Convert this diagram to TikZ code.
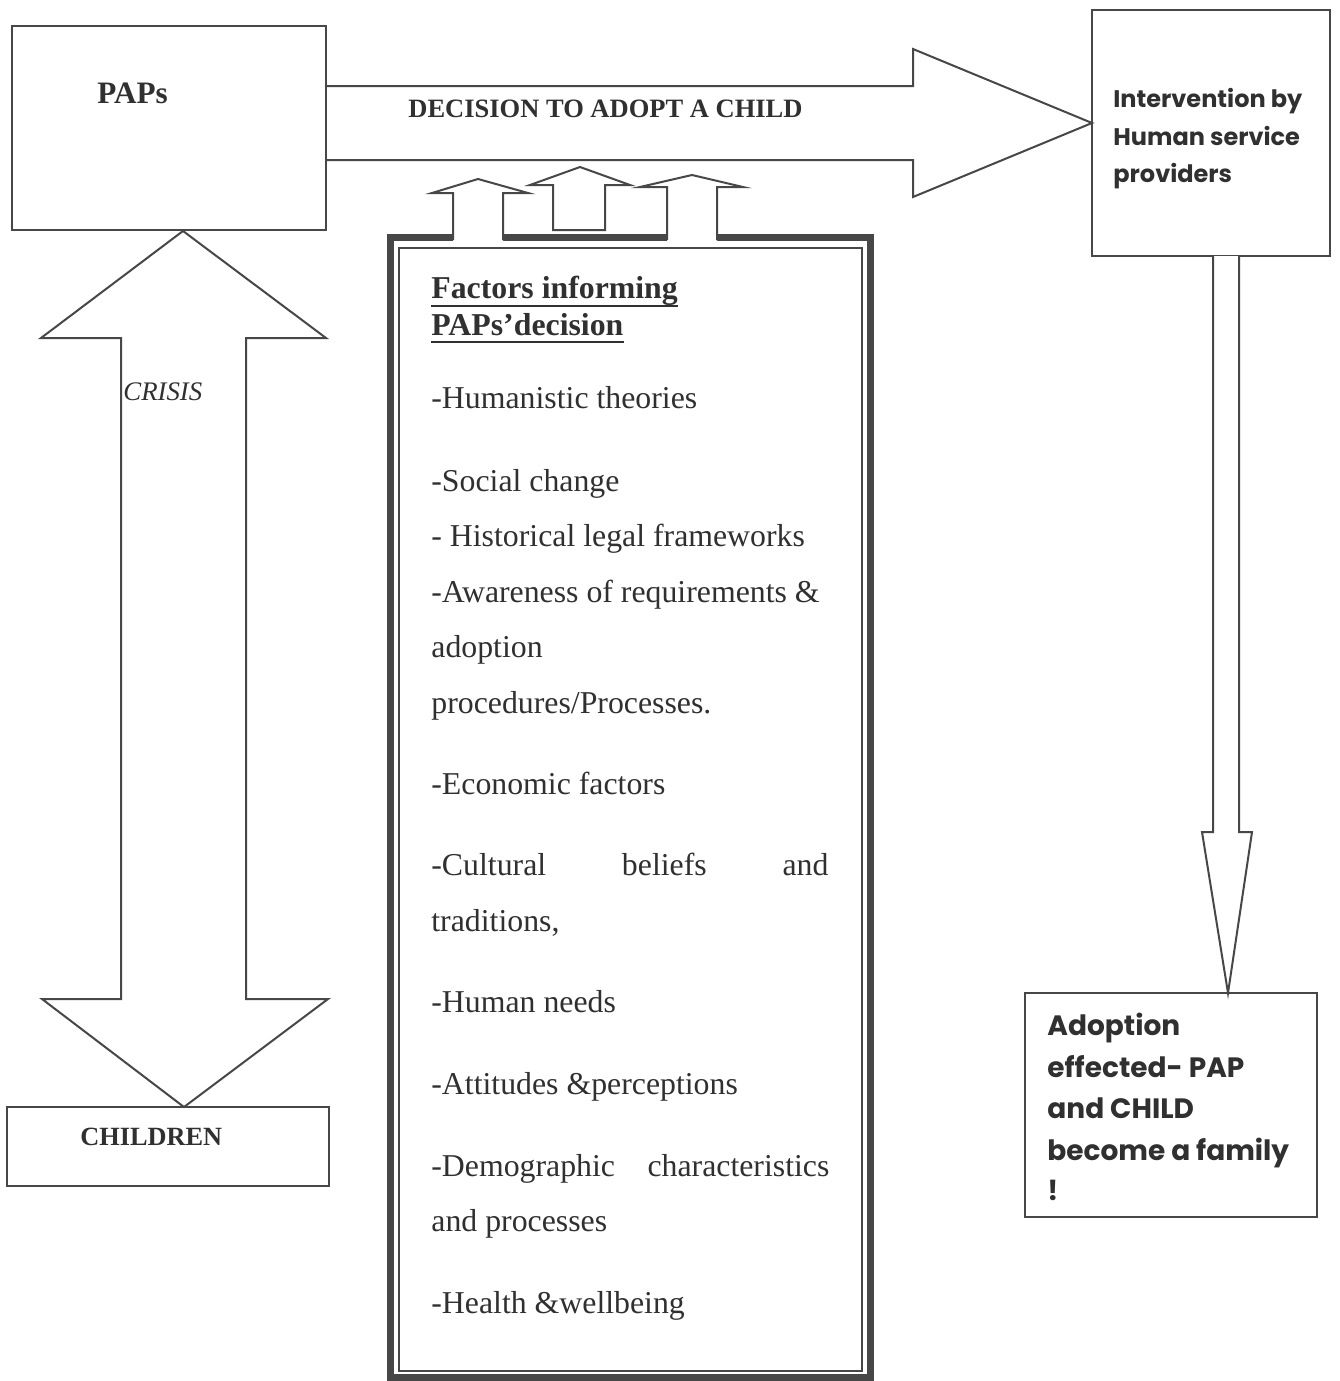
\documentclass[tikz,border=0pt]{standalone}
\usepackage{fontspec}
\setmainfont{Liberation Serif}
\newfontfamily\gothic{Poppins}
\definecolor{lc}{HTML}{474747}
\definecolor{tc}{HTML}{303030}
\begin{document}
\begin{tikzpicture}[x=0.5pt,y=-0.5pt,
  ln/.style={draw=lc, line width=1pt, line join=miter},
  boxn/.style={draw=lc, line width=1pt, fill=white, inner sep=0pt},
  ser/.style={inner sep=0pt, anchor=base west, text=tc, font=\fontsize{15.9pt}{18pt}\selectfont},
  serb/.style={inner sep=0pt, anchor=base west, text=tc, font=\fontsize{15.9pt}{18pt}\selectfont\bfseries},
  goth/.style={inner sep=0pt, anchor=base west, text=tc, font=\fontsize{12pt}{14pt}\gothic\bfseries},
  gothL/.style={inner sep=0pt, anchor=base west, text=tc, font=\fontsize{14pt}{16pt}\gothic\bfseries}
]
\useasboundingbox (0,0) rectangle (1339,1381);
\fill[white] (0,0) rectangle (1339,1381);

% boxes
\node[boxn, minimum width=157pt, minimum height=102pt] (paps) at (169,128) {};
\node[boxn, minimum width=119pt, minimum height=123pt] (interv) at (1211,133) {};
\node[boxn, minimum width=146pt, minimum height=112pt] (adopt) at (1171,1105) {};
\node[boxn, minimum width=161pt, minimum height=39.5pt] (children) at (168,1146.5) {};

% tips of the block arrows
\coordinate (tipR) at (1092,123);
\coordinate (tipUp) at (183,231);
\coordinate (tipDown) at (184,1107);
\coordinate (tipV) at (1228,993);

% big right arrow: PAPs -> Intervention
\draw[ln, fill=white] (paps.east |- 0,86) -- (913,86) -- (913,49) -- (tipR) -- (913,197) -- (913,160) -- (paps.east |- 0,160);
% double arrow PAPs <-> CHILDREN
\draw[ln, fill=white] (tipUp) -- (326,338) -- (246,338) -- (246,999) -- (328,999) -- (tipDown) -- (42,999) -- (121,999) -- (121,338) -- (41,338) -- cycle;
% vertical arrow Intervention -> Adoption
\draw[ln, fill=white] (1213,256) -- (1213,832) -- (1202,832) -- (tipV) -- (1252,832) -- (1239,832) -- (1239,256);

% factors box (thick outer, thin inner)
\draw[draw=lc, line width=3.5pt] (390,237) rectangle (870,1377);
\draw[ln] (399,248) rectangle (862,1371);

% three small up arrows into the decision arrow
\fill[white] (453,241) -- (453,193) -- (432,193) -- (478,179) -- (528,193) -- (503,193) -- (503,241) -- cycle;
\draw[ln] (453,240) -- (453,193) -- (432,193) -- (478,179) -- (528,193) -- (503,193) -- (503,240);
\draw[ln, fill=white] (553,230) -- (553,185) -- (530,185) -- (580,167) -- (630,185) -- (605,185) -- (605,230) -- cycle;
\fill[white] (667,241) -- (667,187) -- (640,187) -- (692,175) -- (743,187) -- (717,187) -- (717,241) -- cycle;
\draw[ln] (667,240) -- (667,187) -- (640,187) -- (692,175) -- (743,187) -- (717,187) -- (717,240);

% labels
\node[serb, font=\fontsize{15.6pt}{18pt}\selectfont\bfseries] (papst) at (97,103.5) {PAPs};
\node[serb, font=\fontsize{13.25pt}{16pt}\selectfont\bfseries] (dec) at (408,117) {DECISION TO ADOPT A CHILD};
\node[serb, font=\fontsize{13.15pt}{16pt}\selectfont\bfseries] (chit) at (80,1145) {CHILDREN};
\node[ser, font=\fontsize{13.4pt}{16pt}\selectfont\itshape] (crisis) at (123,400) {CRISIS};

\node[goth] (i1) at (1113,107) {Intervention by};
\node[goth] (i2) at (1113,145) {Human service};
\node[goth] (i3) at (1113,182) {providers};

\node[gothL] (a1) at (1047,1035) {Adoption};
\node[gothL] (a2) at (1047,1077) {effected- PAP};
\node[gothL] (a3) at (1047,1118) {and CHILD};
\node[gothL] (a4) at (1047,1160) {become a family};
\node[gothL] (a5) at (1047,1200) {!};

% factors text
\node[serb] (h1) at (431,298) {Factors informing};
\node[serb] (h2) at (431,335) {PAPs’decision};
\draw[tc, line width=1.1pt] ([yshift=-4pt]h1.base west) -- ([yshift=-4pt]h1.base east);
\draw[tc, line width=1.1pt] ([yshift=-3.5pt]h2.base west) -- ([yshift=-3.5pt]h2.base east);

\node[ser] (f1) at (431,408) {-Humanistic theories};
\node[ser] (f2) at (431,491) {-Social change};
\node[ser] (f3) at (431,546) {- Historical legal frameworks};
\node[ser] (f4) at (431,602) {-Awareness of requirements \&};
\node[ser] (f5) at (431,657) {adoption};
\node[ser] (f6) at (431,713) {procedures/Processes.};
\node[ser] (f7) at (431,794) {-Economic factors};
\node[ser] (f8) at (431,875) {\makebox[198.5pt][s]{-Cultural beliefs and}};
\node[ser] (f9) at (431,931) {traditions,};
\node[ser] (f10) at (431,1012) {-Human needs};
\node[ser] (f11) at (431,1094) {-Attitudes \&perceptions};
\node[ser] (f12) at (431,1176) {\makebox[199pt][s]{-Demographic characteristics}};
\node[ser] (f13) at (431,1231) {and processes};
\node[ser] (f14) at (431,1313) {-Health \&wellbeing};
\end{tikzpicture}
\end{document}
